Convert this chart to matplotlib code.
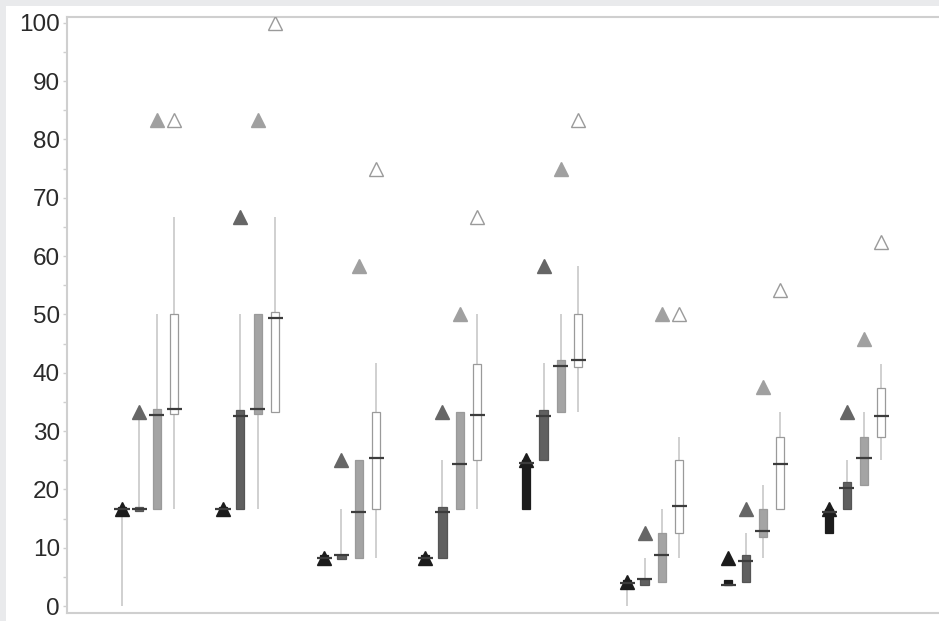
import matplotlib
matplotlib.use('Agg')
import matplotlib.pyplot as plt
import matplotlib.patches as mpatches
from matplotlib.ticker import MultipleLocator

# eight groups, four series each (black, dark gray, light gray, white)
GROUPS = list(range(8))

# whisker low / box bottom / median / box top / whisker high / triangle marker
BLACK_LO = [0.0, 16.7, 8.3, 8.3, 16.7, 0.0, 3.6, 12.5]
BLACK_Q1 = [16.3, 16.3, 8.0, 8.0, 16.7, 3.8, 3.6, 12.5]
BLACK_MED = [16.7, 16.7, 8.3, 8.3, 24.5, 4.0, 3.6, 16.2]
BLACK_Q3 = [17.0, 17.0, 8.7, 8.7, 25.0, 4.5, 4.5, 16.7]
BLACK_HI = [16.7, 16.7, 8.3, 8.3, 25.0, 4.2, 4.5, 16.7]
BLACK_TRI = [16.7, 16.7, 8.3, 8.3, 25.0, 4.2, 8.3, 16.7]

DARK_LO = [16.7, 16.7, 8.3, 8.3, 25.0, 3.6, 4.2, 16.7]
DARK_Q1 = [16.3, 16.7, 8.0, 8.3, 25.0, 3.6, 4.2, 16.7]
DARK_MED = [16.7, 32.6, 8.7, 16.1, 32.6, 4.6, 7.7, 20.2]
DARK_Q3 = [17.0, 33.6, 8.7, 17.0, 33.6, 4.6, 8.7, 21.2]
DARK_HI = [33.3, 50.0, 16.7, 25.0, 41.7, 8.3, 12.5, 25.0]
DARK_TRI = [33.3, 66.7, 25.0, 33.3, 58.3, 12.5, 16.7, 33.3]

LIGHT_LO = [16.7, 16.7, 8.3, 16.7, 33.3, 4.1, 8.3, 20.8]
LIGHT_Q1 = [16.7, 33.0, 8.3, 16.7, 33.3, 4.1, 11.9, 20.8]
LIGHT_MED = [32.8, 33.8, 16.1, 24.4, 41.1, 8.7, 12.9, 25.3]
LIGHT_Q3 = [33.7, 50.0, 25.0, 33.3, 42.1, 12.5, 16.7, 29.0]
LIGHT_HI = [50.0, 50.0, 25.0, 33.3, 50.0, 16.7, 20.8, 33.3]
LIGHT_TRI = [83.3, 83.3, 58.3, 50.0, 75.0, 50.0, 37.5, 45.8]

WHITE_LO = [16.7, 33.3, 8.3, 16.7, 33.3, 8.3, 16.7, 25.0]
WHITE_Q1 = [33.0, 33.3, 16.7, 25.0, 41.0, 12.5, 16.7, 29.0]
WHITE_MED = [33.8, 49.3, 25.4, 32.7, 42.1, 17.2, 24.4, 32.6]
WHITE_Q3 = [50.0, 50.5, 33.3, 41.5, 50.0, 25.0, 29.0, 37.3]
WHITE_HI = [66.7, 66.7, 41.7, 50.0, 58.3, 29.0, 33.3, 41.5]
WHITE_TRI = [83.3, 100.0, 75.0, 66.7, 83.3, 50.0, 54.2, 62.5]

SERIES = [
    # (lo, q1, med, q3, hi, tri, box face, box edge, marker face, marker edge)
    (BLACK_LO, BLACK_Q1, BLACK_MED, BLACK_Q3, BLACK_HI, BLACK_TRI, '#1c1c1c', '#1c1c1c', '#1c1c1c', '#1c1c1c'),
    (DARK_LO, DARK_Q1, DARK_MED, DARK_Q3, DARK_HI, DARK_TRI, '#606060', '#555555', '#666666', '#666666'),
    (LIGHT_LO, LIGHT_Q1, LIGHT_MED, LIGHT_Q3, LIGHT_HI, LIGHT_TRI, '#a4a4a4', '#9a9a9a', '#a0a0a0', '#a0a0a0'),
    (WHITE_LO, WHITE_Q1, WHITE_MED, WHITE_Q3, WHITE_HI, WHITE_TRI, '#ffffff', '#9a9a9a', '#ffffff', '#9a9a9a'),
]

SERIES_STEP = 0.172
BOX_WIDTH = 0.08
MEDIAN_WIDTH = 0.15
WHISKER_COLOUR = '#c8c8c8'
MEDIAN_COLOUR = '#3c3c3c'
FRAME_COLOUR = '#cfcfcf'


def draw_series(ax, i, lo, q1, med, q3, hi, tri, face, edge, mface, medge):
    xs = [g + i * SERIES_STEP for g in GROUPS]
    ax.vlines(xs, lo, hi, color=WHISKER_COLOUR, linewidth=1.2, zorder=1)
    heights = [b - a for a, b in zip(q1, q3)]
    ax.bar(xs, heights, width=BOX_WIDTH, bottom=q1, color=face, edgecolor=edge,
           linewidth=0.9, zorder=2)
    ax.plot(xs, tri, linestyle='none', marker='^', markersize=10,
            markerfacecolor=mface, markeredgecolor=medge, markeredgewidth=1.0, zorder=3)
    ax.hlines(med, [x - MEDIAN_WIDTH / 2 for x in xs], [x + MEDIAN_WIDTH / 2 for x in xs],
              color=MEDIAN_COLOUR, linewidth=1.6, zorder=4)


def main():
    plt.rcParams['font.family'] = ['Liberation Sans', 'DejaVu Sans']
    fig = plt.figure(figsize=(9.39, 6.21), dpi=100, facecolor='#e9eaec')
    # white panel behind the axes, leaving a thin gray margin top and left
    fig.patches.append(mpatches.Rectangle((6 / 939, 0), 1, 615 / 621, transform=fig.transFigure,
                                          facecolor='white', edgecolor='none', zorder=-10))
    ax = fig.add_axes([67 / 939, 8 / 621, 1 - 67 / 939 + 0.01, 596 / 621])
    ax.set_zorder(1)
    ax.set_facecolor('white')

    for i, s in enumerate(SERIES):
        draw_series(ax, i, *s)

    ax.set_xlim(-0.545, 8.18)
    ax.set_ylim(-1.2, 101.0)
    ax.set_xticks([])
    ax.yaxis.set_major_locator(MultipleLocator(10))
    ax.yaxis.set_minor_locator(MultipleLocator(5))
    ax.tick_params(axis='y', which='both', length=3, width=1, color=FRAME_COLOUR,
                   labelsize=17.5, labelcolor='#2a2a2a', pad=2)
    for side in ['top', 'left', 'bottom']:
        ax.spines[side].set_color(FRAME_COLOUR)
        ax.spines[side].set_linewidth(1.5)
    ax.spines['right'].set_visible(False)

    fig.savefig('out.png', dpi=100, facecolor=fig.get_facecolor())


main()
